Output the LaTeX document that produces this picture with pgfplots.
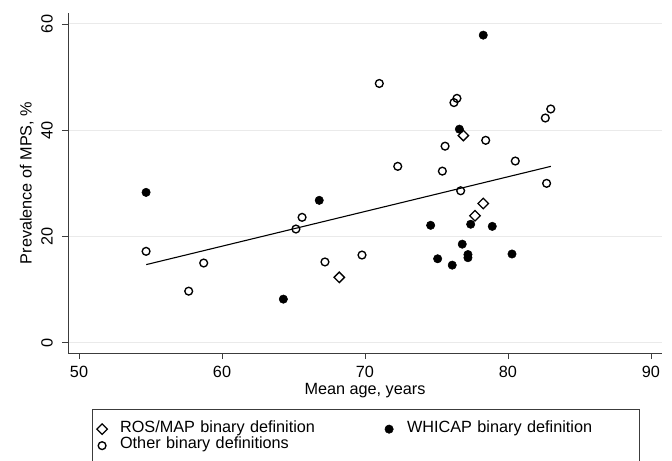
\documentclass[border=0pt]{standalone}
\usepackage{fontspec}
\setmainfont{Liberation Sans}
\usepackage{pgfplots}
\pgfplotsset{compat=1.18}

\definecolor{axisgray}{RGB}{60,60,60}
\definecolor{gridgray}{RGB}{234,234,234}

\begin{document}
\fontsize{16.3}{19.5}\selectfont
\begin{tikzpicture}
\path[use as bounding box] (0,0) rectangle (672bp,461bp);
\begin{axis}[
    at={(68bp,108bp)}, anchor=south west,
    scale only axis, width=594bp, height=340bp,
    xmin=49.23, xmax=90.77, ymin=-1.94, ymax=62.07,
    axis x line*=bottom, axis y line*=left,
    axis line style={-, axisgray, line width=0.9bp},
    xtick={50,60,70,80,90}, ytick={0,20,40,60},
    tick align=outside, major tick length=6bp,
    tick style={axisgray, line width=0.9bp},
    ymajorgrids, grid style={gridgray, line width=1bp},
    /pgf/number format/assume math mode=true,
    xticklabel style={anchor=north, inner sep=0bp, yshift=-7bp},
    yticklabel style={rotate=90, anchor=south, inner sep=0bp, yshift=9bp},
    xlabel={Mean age, years},
    ylabel={Prevalence of MPS, \%},
    xlabel style={at={(axis description cs:0.5,-0.122)}, anchor=base},
    ylabel style={at={(axis description cs:-0.0611,0.5)}, anchor=base},
    legend columns=2,
    legend cell align=left,
    legend image code/.code={\path[draw=none] (0bp,0bp) (24bp,0bp); \draw[#1] plot coordinates {(8bp,0bp)};},
    legend style={at={(axis description cs:0.0404,-0.1656)}, anchor=north west,
        draw=axisgray, line width=0.8bp, inner xsep=1.7bp, inner ysep=11.2bp,
        nodes={inner xsep=2bp, inner ysep=0bp, text height=11.5bp, text depth=5bp, text width=229bp, align=left},
        /tikz/every even column/.append style={column sep=30bp}},
]
% ROS/MAP binary definition
\addplot[only marks, mark=square, mark size=3.7bp, mark options={rotate=45, draw=black, fill=white, line width=1.3bp}]
coordinates {(68.2,12.3) (76.88,39.0) (77.69,23.9) (78.27,26.2)};
\addlegendentry{ROS/MAP binary definition}
% WHICAP binary definition
\addplot[only marks, mark=*, mark size=4.2bp, mark options={draw=black, fill=black, line width=0.5bp}]
coordinates {(54.69,28.3) (64.29,8.2) (66.8,26.8) (74.59,22.1) (75.08,15.8) (76.1,14.6)
 (76.6,40.2) (76.8,18.55) (77.2,16.6) (77.2,16.0) (77.39,22.3) (78.27,57.9) (78.9,21.9) (80.28,16.7)};
\addlegendentry{WHICAP binary definition}
% Other binary definitions
\addplot[only marks, mark=o, mark size=3.9bp, mark options={draw=black, line width=1.35bp}]
coordinates {(54.69,17.2) (57.67,9.7) (58.72,15.0) (65.17,21.4) (65.6,23.6) (67.2,15.2)
 (69.79,16.5) (71.0,48.8) (72.29,33.2) (75.41,32.3) (75.6,37.0) (76.22,45.2) (76.43,46.0)
 (76.69,28.6) (78.44,38.1) (80.51,34.2) (82.61,42.3) (82.99,44.0) (82.7,30.0)};
\addlegendentry{Other binary definitions}
% fitted line
\addplot[forget plot, black, line width=1.1bp] coordinates {(54.7,14.7) (83.0,33.2)};
\end{axis}
\end{tikzpicture}
\end{document}
